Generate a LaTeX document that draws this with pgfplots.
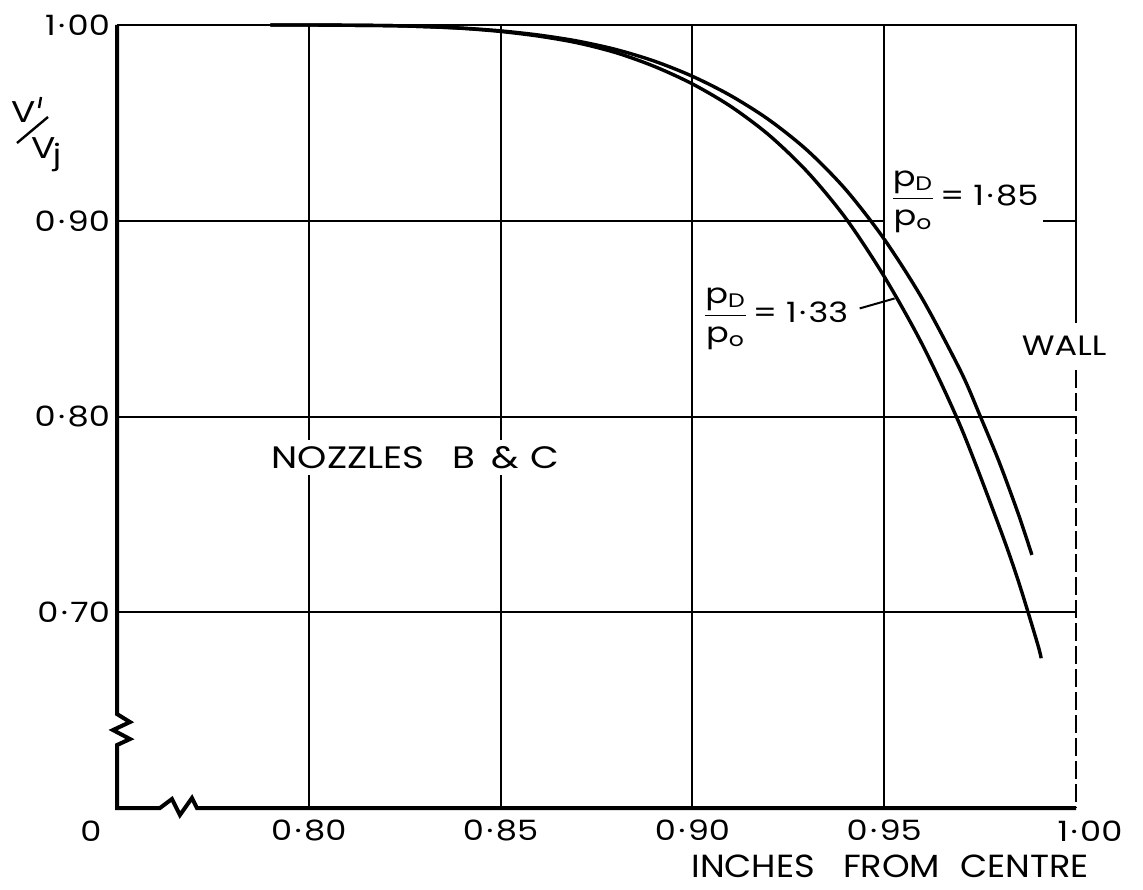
\documentclass[border=0pt]{standalone}
\usepackage{amsmath}
\usepackage{fontspec}
\setmainfont{Poppins}[FakeStretch=1.2]
\newfontfamily\titlefont{Poppins}[FakeStretch=1.1]
\usepackage{pgfplots}
\pgfplotsset{compat=1.18}
\newcommand\pd{\kern1.2pt·\kern1.2pt}
\begin{document}
\begin{tikzpicture}[font=\fontsize{14}{16}\selectfont]
\useasboundingbox (-58.5pt,-40.5pt) rectangle (513pt,404pt);
\begin{axis}[
  at={(0,0)}, anchor=south west,
  scale only axis, width=479.5pt, height=391.5pt,
  xmin=0.75, xmax=1.00, ymin=0.60, ymax=1.00,
  clip=false,
  axis line style={draw=none},
  xtick={0.80,0.85,0.90,0.95}, xticklabels={0\pd80,0\pd85,0\pd90,0\pd95},
  ytick={0.70,0.80,0.90}, yticklabels={0\pd70,0\pd80,0\pd90},
  extra y ticks={1.00}, extra y tick labels={1\pd00},
  extra y tick style={grid=none},
  major tick length=0pt,
  grid=major,
  major grid style={black, line width=1pt},
  xticklabel style={yshift=-2.5pt},
  yticklabel style={xshift=0pt},
]
% p_D/p_o = 1.33
\addplot[black, line width=1.7pt, smooth] coordinates {
(0.790,1.0000) (0.800,1.0000) (0.820,0.9997) (0.830,0.9992) (0.840,0.9983)
(0.850,0.9967) (0.860,0.9943) (0.870,0.9909) (0.880,0.9859) (0.890,0.9789)
(0.900,0.9699) (0.910,0.9584) (0.920,0.9437) (0.930,0.9249) (0.940,0.9012)
(0.950,0.8715) (0.960,0.8365) (0.970,0.7945) (0.980,0.7437) (0.985,0.7157)
(0.990,0.6837) (0.9909,0.6765)
};
% p_D/p_o = 1.85
\addplot[black, line width=1.7pt, smooth] coordinates {
(0.790,1.0000) (0.800,1.0000) (0.820,0.9997) (0.830,0.9992) (0.840,0.9984)
(0.850,0.9970) (0.860,0.99485) (0.870,0.9918) (0.880,0.9875) (0.890,0.9816)
(0.900,0.9738) (0.910,0.9639) (0.920,0.9515) (0.930,0.93585) (0.940,0.91585)
(0.950,0.8906) (0.960,0.8599) (0.970,0.8229) (0.975,0.8003) (0.980,0.7766)
(0.985,0.7500) (0.9885,0.7293)
};
% frame
\draw[line width=1.3pt] (axis cs:0.75,1.0) -- (axis cs:1.0,1.0) -- (axis cs:1.0,0.8476);
\draw[line width=1.3pt, dash pattern=on 9pt off 2.5pt] (axis cs:1.0,0.8237) -- (axis cs:1.0,0.60);
\draw[line width=2pt, line join=miter] (axis cs:0.75,1.0) -- (axis cs:0.75,0.648)
  -- ++(6.5pt,-4pt) -- ++(-8.5pt,-4pt) -- ++(8.5pt,-4.5pt) -- ++(-6.5pt,-3pt)
  -- (axis cs:0.75,0.60) -- (axis cs:0.7612,0.60)
  -- ++(6pt,4.5pt) -- ++(4pt,-8pt) -- ++(6pt,8.5pt) -- ++(2.5pt,-5pt)
  -- (axis cs:1.0,0.60);
% labels
\node[fill=white, inner sep=3pt, font=\fontsize{15.5}{17}\selectfont] at (axis cs:0.8278,0.7791)
  {NOZZLES\hspace{14pt}B\hspace{8pt}\&\hspace{6pt}C};
\node[fill=white, anchor=west, inner sep=2.5pt] at (axis cs:0.9502,0.9097)
  {$\dfrac{\mbox{p\textsubscript{D}}}{\mbox{p\textsubscript{o}}}$\,= 1\pd85};
\node[anchor=west, inner sep=2pt] at (axis cs:0.9016,0.850)
  {$\dfrac{\mbox{p\textsubscript{D}}}{\mbox{p\textsubscript{o}}}$\,= 1\pd33};
\draw[line width=1pt] (axis cs:0.9436,0.8552) -- (axis cs:0.9527,0.8603);
\node at (axis cs:0.9969,0.8361) {WALL};
\end{axis}
\node at (-13pt,-11.5pt) {0};
\node at (486.5pt,-11.5pt) {1\pd00};
\node[inner sep=1pt, font=\titlefont\fontsize{16}{18}\selectfont] at (386.5pt,-29pt) {INCHES\hspace{14pt}FROM\hspace{10pt}CENTRE};
% y-axis title V'/V_j
\node[font=\fontsize{15}{17}\selectfont] at (-46.5pt,348pt) {V};
\draw[line width=1.2pt] (-38pt,355.5pt) -- (-39pt,350pt);
\draw[line width=1.2pt] (-50pt,332.5pt) -- (-34.5pt,345.5pt);
\node[font=\fontsize{15}{17}\selectfont] at (-36.75pt,329.75pt) {V};
\node[font=\fontsize{14}{16}\selectfont] at (-30pt,325.5pt) {j};
\end{tikzpicture}
\end{document}
